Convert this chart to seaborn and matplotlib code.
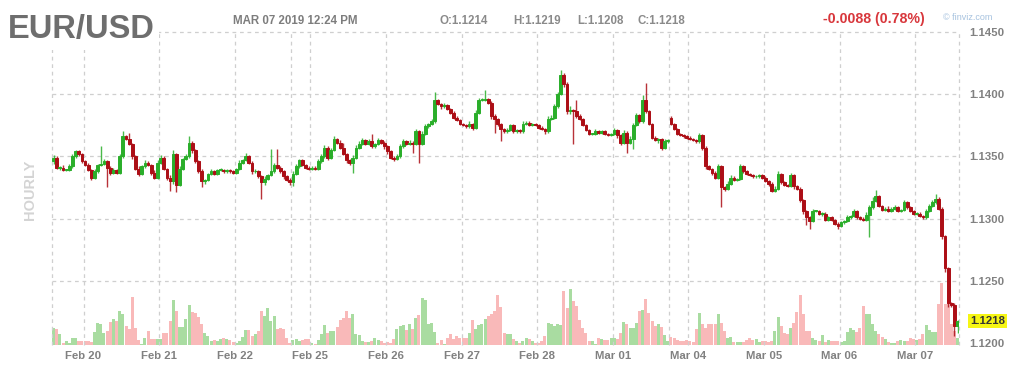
import numpy as np
import pandas as pd
import matplotlib
matplotlib.use("Agg")
import matplotlib.pyplot as plt
import matplotlib.transforms as mtransforms
import seaborn as sns

# ---------------- data (EUR/USD hourly, pips above BASE) ----------------
BASE = 1.1200
PIP = 0.0001

CLOSE_PIPS = (
    [149, 141, 141, 139, 139, 142, 150, 154, 152, 146]
    + [143, 139, 133, 138, 143, 144, 146, 141, 137, 139, 137, 150, 166, 164, 160, 150, 140, 136, 142, 145, 143, 137, 133, 145]
    + [149, 140, 133, 130, 152, 127, 140, 148, 150, 161, 155, 146, 138, 130, 131, 136, 138, 136, 139, 139, 138, 139, 138, 137]
    + [140, 145, 147, 150, 145, 138, 138, 134, 129, 132, 135, 138, 143, 141, 138, 134, 131, 129]
    + [136, 142, 147, 143, 141, 140]
    + [141, 140, 146, 150, 157, 149, 155, 164, 161, 157, 152, 147, 145, 149, 157, 160, 163, 160, 162, 158, 160, 163, 161, 158]
    + [154, 149, 148, 150, 158, 162, 160, 161, 160, 170, 160, 168, 174, 176, 178, 195, 192, 190, 191, 188, 185, 181, 179, 176]
    + [175, 174, 176, 173, 185, 195, 195, 196, 193, 182, 180, 176, 172, 170, 171, 175, 170, 171, 170, 176, 177, 175, 176, 175]
    + [173, 172, 170, 180, 181, 190, 200, 215, 208, 186, 187, 186, 182, 180, 175, 171, 168, 168, 170, 169, 170, 168, 167, 168]
    + [171, 167, 161, 169, 161, 164, 175, 183, 178, 195, 186, 176, 165, 163, 164, 157, 162, 163]
    + [176, 172, 168, 167, 166, 165]
    + [164, 163, 162, 167, 157, 142, 140, 137, 133, 142, 125, 124, 128, 133, 131, 132, 142, 138, 136, 135, 134, 134, 135, 133]
    + [130, 128, 122, 124, 136, 129, 127, 126, 135, 126, 124, 115, 106, 101, 98, 106, 106, 104, 104, 99, 101, 99, 96, 94]
    + [97, 98, 101, 102, 106, 101, 100, 99, 103, 109, 114, 118, 110, 107, 108, 106, 108, 109, 106, 107, 113, 109, 106, 104]
    + [104, 102, 101, 106, 110, 113, 116, 108, 86, 60, 32, 31, 14, 18]
)

UPPER_WICK = (
    [2, 1, 1, 2, 1, 2, 2, 1, 1, 1]
    + [1, 2, 1, 2, 1, 14, 2, 1, 1, 2, 1, 2, 4, 1, 5, 1, 1, 2, 1, 2, 1, 1, 2, 2]
    + [2, 1, 1, 2, 3, 1, 2, 1, 2, 5, 1, 1, 1, 2, 1, 1, 2, 1, 1, 2, 1, 1, 1, 1]
    + [1, 2, 1, 3, 1, 1, 2, 1, 1, 2, 1, 18, 2, 13, 1, 1, 1, 2]
    + [2, 2, 1, 1, 1, 1]
    + [1, 1, 2, 2, 2, 1, 2, 2, 1, 2, 4, 1, 1, 2, 2, 2, 2, 1, 2, 6, 1, 2, 1, 1]
    + [1, 1, 1, 2, 2, 2, 1, 2, 1, 2, 1, 2, 2, 1, 2, 7, 1, 1, 2, 1, 1, 1, 1, 1]
    + [1, 1, 2, 1, 2, 2, 2, 7, 1, 1, 2, 1, 1, 1, 2, 1, 1, 1, 1, 2, 1, 1, 1, 1]
    + [1, 1, 1, 2, 2, 2, 2, 4, 2, 2, 3, 1, 9, 2, 1, 1, 1, 1, 2, 1, 1, 1, 1, 1]
    + [2, 1, 1, 2, 1, 2, 2, 2, 1, 4, 14, 1, 1, 1, 1, 1, 2, 1]
    + [1, 1, 1, 1, 1, 1]
    + [1, 1, 1, 2, 1, 1, 1, 1, 1, 2, 1, 1, 2, 2, 1, 1, 2, 1, 1, 1, 1, 1, 1, 1]
    + [1, 1, 1, 2, 2, 1, 1, 1, 2, 1, 1, 1, 1, 1, 1, 2, 1, 1, 1, 1, 1, 1, 1, 1]
    + [1, 1, 2, 1, 2, 1, 1, 1, 2, 2, 3, 5, 1, 1, 1, 2, 1, 2, 1, 1, 2, 1, 1, 1]
    + [1, 1, 1, 2, 2, 2, 4, 1, 1, 1, 1, 1, 1, 1]
)

LOWER_WICK = (
    [2, 1, 2, 1, 1, 1, 1, 1, 2, 1]
    + [1, 1, 2, 1, 1, 1, 1, 16, 2, 1, 1, 1, 1, 1, 1, 2, 1, 2, 1, 1, 1, 2, 1, 1]
    + [1, 1, 2, 8, 2, 6, 1, 1, 1, 1, 2, 1, 1, 5, 2, 1, 1, 1, 1, 1, 1, 1, 1, 1]
    + [1, 1, 1, 1, 1, 2, 1, 1, 13, 2, 1, 1, 1, 1, 1, 2, 1, 2]
    + [3, 1, 1, 1, 1, 1]
    + [1, 1, 1, 1, 1, 2, 1, 1, 1, 1, 1, 2, 2, 8, 1, 1, 1, 1, 1, 1, 1, 1, 1, 2]
    + [2, 1, 2, 1, 1, 1, 1, 1, 7, 1, 15, 1, 1, 1, 1, 1, 1, 2, 1, 1, 1, 1, 1, 1]
    + [1, 1, 1, 2, 1, 1, 1, 1, 1, 2, 11, 2, 10, 1, 1, 1, 1, 1, 1, 1, 1, 1, 1, 1]
    + [1, 1, 2, 1, 1, 1, 1, 1, 2, 2, 2, 26, 1, 1, 1, 1, 1, 1, 1, 1, 1, 1, 1, 1]
    + [1, 2, 2, 1, 8, 1, 8, 1, 1, 1, 1, 1, 1, 1, 2, 2, 1, 1]
    + [1, 1, 1, 1, 1, 1]
    + [1, 1, 1, 1, 2, 2, 1, 2, 1, 1, 16, 2, 1, 1, 1, 1, 1, 1, 1, 1, 1, 1, 1, 1]
    + [1, 2, 1, 1, 1, 1, 1, 1, 1, 2, 1, 2, 2, 6, 6, 1, 1, 1, 2, 1, 1, 1, 1, 2]
    + [1, 1, 1, 1, 1, 1, 1, 1, 1, 18, 1, 1, 1, 1, 1, 1, 1, 1, 1, 1, 1, 1, 1, 1]
    + [1, 1, 1, 1, 1, 1, 1, 1, 2, 3, 3, 2, 8, 6]
)

VOLUME = (
    [52, 47, 32, 7, 12, 7, 22, 20, 12, 12]
    + [12, 12, 10, 40, 67, 62, 37, 42, 70, 77, 72, 102, 92, 57, 47, 144, 50, 14, 4, 22, 42, 17, 17, 17]
    + [17, 37, 37, 72, 134, 102, 54, 54, 77, 120, 100, 97, 84, 62, 37, 27, 12, 14, 12, 17, 22, 17, 14, 10]
    + [7, 12, 24, 44, 44, 27, 32, 42, 102, 87, 110, 72, 87, 47, 52, 47, 20, 7]
    + [14, 17, 12, 14, 17, 17]
    + [7, 4, 14, 32, 59, 37, 42, 42, 54, 74, 80, 102, 80, 94, 34, 30, 12, 10, 10, 12, 20, 14, 12, 7]
    + [10, 7, 17, 47, 57, 60, 44, 62, 47, 80, 90, 140, 134, 62, 67, 40, 7, 14, 4, 22, 32, 17, 27, 22]
    + [22, 20, 37, 74, 47, 60, 62, 77, 87, 92, 102, 150, 114, 37, 32, 32, 17, 12, 7, 12, 22, 17, 12, 7]
    + [7, 12, 27, 67, 62, 57, 64, 60, 162, 112, 167, 132, 117, 74, 52, 37, 12, 12, 4, 20, 17, 14, 14, 22]
    + [22, 17, 37, 70, 64, 52, 50, 67, 102, 104, 137, 97, 72, 57, 64, 54, 30, 12]
    + [24, 20, 14, 12, 12, 14]
    + [12, 10, 47, 97, 64, 50, 64, 64, 64, 92, 67, 42, 22, 24, 10, 10, 10, 10, 14, 20, 14, 17, 10, 12]
    + [12, 10, 12, 42, 84, 57, 37, 32, 52, 67, 100, 150, 92, 42, 42, 22, 14, 12, 30, 10, 14, 12, 12, 12]
    + [10, 12, 40, 50, 44, 40, 52, 117, 92, 94, 62, 42, 34, 24, 17, 10, 7, 7, 12, 14, 12, 12, 20, 17]
    + [14, 17, 32, 60, 44, 40, 40, 122, 186, 122, 162, 62, 42, 22]
)

SESSION_OPEN = {0: 146, 196: 181}      # opens that do not follow the prior close
DAY_START = [10, 34, 58, 82, 106, 130, 154, 178, 202, 226, 250, 274]
DAY_LABELS = ["Feb 20", "Feb 21", "Feb 22", "Feb 25", "Feb 26", "Feb 27",
              "Feb 28", "Mar 01", "Mar 04", "Mar 05", "Mar 06", "Mar 07"]
WEEK_BREAK = [76, 196]
PRICE_TICKS = [1.1200, 1.1250, 1.1300, 1.1350, 1.1400, 1.1450]

HEADER_DATE = "MAR 07 2019 12:24 PM"
HEADER_OHLC = ["O:1.1214", "H:1.1219", "L:1.1208", "C:1.1218"]
CHANGE_TEXT = "-0.0088 (0.78%)"

n = len(CLOSE_PIPS)
assert len(UPPER_WICK) == n and len(LOWER_WICK) == n and len(VOLUME) == n, (
    len(CLOSE_PIPS), len(UPPER_WICK), len(LOWER_WICK), len(VOLUME))

# ---------------- derived OHLC ----------------
idx = np.arange(n)
close = BASE + np.array(CLOSE_PIPS) * PIP
open_ = np.r_[np.nan, close[:-1]]
for k, v in SESSION_OPEN.items():
    open_[k] = BASE + v * PIP
high = np.maximum(open_, close) + np.array(UPPER_WICK) * PIP
low = np.minimum(open_, close) - np.array(LOWER_WICK) * PIP
up = close >= open_

GREEN, RED = "#2aae2a", "#ac0e16"
VGREEN, VRED = "#a9dca1", "#f9b9b9"
GRID = "#cfcfcf"
LABEL = "#818181"

# ---------------- figure ----------------
sns.set_style("white")
plt.rcParams["font.family"] = ["Liberation Sans", "DejaVu Sans"]

W, H = 1024, 373
fig = plt.figure(figsize=(W / 100, H / 100), dpi=100)
left_px, right_px, top_px, bottom_px = 52, 959.2, 31.7, 345
ax_vol = fig.add_axes([left_px / W, (H - bottom_px) / H,
                       (right_px - left_px) / W, (bottom_px - top_px) / H])
ax_vol.set_facecolor("white")

vol_df = pd.DataFrame({"hour": idx, "volume": VOLUME,
                       "dir": np.where(up, "up", "down")})
sns.barplot(data=vol_df, x="hour", y="volume", hue="dir",
            palette={"up": VGREEN, "down": VRED}, native_scale=True,
            dodge=False, width=0.95, saturation=1, errorbar=None,
            legend=False, linewidth=0, ax=ax_vol)
ax_vol.set_xlim(-0.5, n - 0.5)
ax_vol.set_ylim(0, 3 * (bottom_px - top_px))
ax_vol.set_xlabel("")
ax_vol.set_ylabel("")
ax_vol.set_yticks([])

ax_price = ax_vol.twinx()
ax_price.set_xlim(-0.5, n - 0.5)
ax_price.set_ylim(1.11986, 1.1450)

dash = (0, (3, 3))
for p in PRICE_TICKS[1:]:
    ax_price.axhline(p, color=GRID, lw=0.9, ls=dash, zorder=1, clip_on=False)
for xv in [-0.5, n - 0.5] + [d - 0.5 for d in DAY_START] + [w - 0.5 for w in WEEK_BREAK]:
    ax_price.axvline(xv, color=GRID, lw=0.9, ls=dash, zorder=1, clip_on=False)

cols = np.where(up, GREEN, RED)
ax_price.vlines(idx, low, high, colors=cols, linewidth=1.0, alpha=0.85, zorder=3)
body = np.maximum(np.abs(close - open_), 0.6 * PIP)
ax_price.bar(idx, body, bottom=np.minimum(open_, close), width=0.9,
             color=cols, edgecolor=cols, linewidth=0.7, zorder=4)

for a in (ax_vol, ax_price):
    for s in a.spines.values():
        s.set_visible(False)

ax_price.set_yticks(PRICE_TICKS)
ax_price.set_yticklabels([f"{p:.4f}" for p in PRICE_TICKS])
ax_price.tick_params(axis="y", length=0, pad=7, labelsize=8.2, labelcolor=LABEL,
                     labelright=True, labelleft=False)
for t in ax_price.get_yticklabels():
    t.set_fontweight("bold")
ax_price.set_ylabel("")

ax_vol.set_xticks([d - 0.5 for d in DAY_START])
ax_vol.set_xticklabels(DAY_LABELS)
ax_vol.tick_params(axis="x", length=0, pad=4, labelsize=8.2, labelcolor=LABEL)
for t in ax_vol.get_xticklabels():
    t.set_fontweight("bold")

# last price highlight
trans = mtransforms.blended_transform_factory(ax_price.transAxes, ax_price.transData)
ax_price.text(1 + 11 / (right_px - left_px), close[-1], f"{close[-1]:.4f}",
              transform=trans, ha="left", va="center", fontsize=8.2,
              fontweight="bold", color="#333333", clip_on=False, zorder=6,
              bbox=dict(facecolor="#f6f614", edgecolor="none", pad=1.6))

# ---------------- header texts ----------------
def fx(px):
    return px / W

def fy(py):
    return 1 - py / H

fig.text(fx(8), fy(38.3), "EUR/USD", ha="left", va="baseline", fontsize=23.5,
         fontweight="bold", color="#6e6e6e", zorder=10,
         bbox=dict(facecolor="white", edgecolor="none", pad=3))
fig.text(fx(233), fy(23.5), HEADER_DATE, ha="left", va="baseline", fontsize=8.3,
         fontweight="bold", color="#7d7d7d")
for xpx, s in zip([440, 513, 577, 638], HEADER_OHLC):
    fig.text(fx(xpx), fy(23.5), s, ha="left", va="baseline", fontsize=8.3,
             fontweight="bold", color="#8a8a8a")
fig.text(fx(823), fy(23.3), CHANGE_TEXT, ha="left", va="baseline", fontsize=10.2,
         fontweight="bold", color="#d8373c")
fig.text(fx(943), fy(19.5), "\u00a9 finviz.com", ha="left", va="baseline",
         fontsize=6.5, color="#a6c2df")
fig.text(fx(30), fy(190), "HOURLY", ha="center", va="center", rotation=90,
         fontsize=10.5, fontweight="bold", color="#d4d4d4")

fig.savefig("out.png", dpi=100)
